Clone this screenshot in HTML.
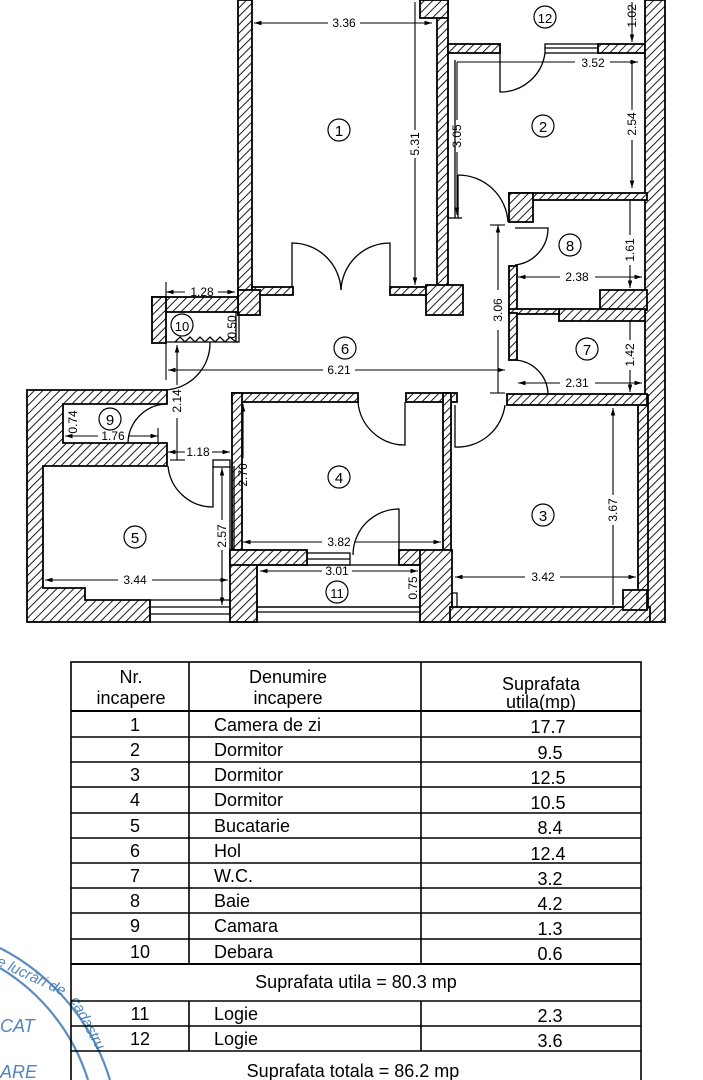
<!DOCTYPE html>
<html><head><meta charset="utf-8">
<style>
html,body{margin:0;padding:0;background:#fff;}
body{width:703px;height:1080px;overflow:hidden;position:relative;font-family:"Liberation Sans",sans-serif;}
svg{position:absolute;left:0;top:0;}
</style></head>
<body>
<svg width="703" height="1080" viewBox="0 0 703 1080" xmlns="http://www.w3.org/2000/svg">
<defs>
<pattern id="h" patternUnits="userSpaceOnUse" width="6" height="6" patternTransform="rotate(45)">
<rect width="6" height="6" fill="#fff"/>
<line x1="0" y1="0" x2="0" y2="6" stroke="#000" stroke-width="1.8"/>
</pattern>
<marker id="a" viewBox="0 0 10 10" refX="10" refY="5" markerWidth="7" markerHeight="7" orient="auto-start-reverse"><path d="M0,2 L10,5 L0,8 z" fill="#000"/></marker>
</defs>
<g fill="url(#h)" stroke="#000" stroke-width="1.8">
<rect x="238" y="0" width="14" height="315"/>
<rect x="252" y="287" width="41" height="8"/>
<rect x="238" y="290" width="22" height="25"/>
<rect x="437" y="0" width="11" height="290"/>
<rect x="420" y="0" width="28" height="18"/>
<rect x="390" y="287" width="40" height="8"/>
<rect x="426" y="285" width="37" height="30"/>
<rect x="448" y="44" width="52" height="9"/>
<rect x="598" y="44" width="47" height="9"/>
<rect x="645" y="0" width="20" height="622"/>
<rect x="638" y="395" width="10" height="212"/>
<rect x="509" y="193" width="138" height="7"/>
<rect x="509" y="193" width="24" height="29"/>
<rect x="509" y="266" width="8" height="44"/>
<rect x="600" y="290" width="47" height="20"/>
<rect x="559" y="309" width="86" height="12"/>
<rect x="509" y="309" width="50" height="5"/>
<rect x="509" y="313" width="8" height="47"/>
<rect x="507" y="394" width="140" height="11"/>
<rect x="152" y="297" width="86" height="15"/>
<rect x="152" y="297" width="14" height="46"/>
<path d="M27,390 H167 V404 H63 V443 H167 V466 H43 V588 H85 V600 H150 V622 H27 Z"/>
<rect x="232" y="393" width="126" height="9"/>
<rect x="406" y="393" width="51" height="9"/>
<rect x="232" y="393" width="10" height="157"/>
<rect x="443" y="393" width="8" height="160"/>
<rect x="230" y="550" width="27" height="72"/>
<rect x="230" y="550" width="77" height="15"/>
<rect x="399" y="550" width="23" height="15"/>
<rect x="420" y="550" width="32" height="72"/>
<rect x="450" y="607" width="200" height="15"/>
<rect x="623" y="590" width="24" height="20"/>
</g>
<g fill="none" stroke="#000" stroke-width="1.3">
<line x1="448" y1="53" x2="448" y2="218"/><line x1="455" y1="60" x2="455" y2="218"/>
<line x1="448" y1="218" x2="462" y2="218"/>
<rect x="545" y="44" width="53" height="9"/><line x1="545" y1="48" x2="598" y2="48"/>
<rect x="236" y="312" width="3" height="30"/>
<line x1="166" y1="342" x2="238" y2="342"/>
<polyline points="175,342 180,337 185,342 190,337 195,342 200,337 205,342 210,337 215,342 220,337 225,342 230,337 236,342"/>
<line x1="230" y1="466" x2="230" y2="550"/><line x1="234" y1="466" x2="234" y2="550"/>
<rect x="213" y="460" width="17" height="7"/>
<rect x="150" y="600" width="80" height="22"/><line x1="150" y1="607" x2="230" y2="607"/><line x1="150" y1="614" x2="230" y2="614"/>
<rect x="307" y="553" width="43" height="12"/><line x1="307" y1="559" x2="350" y2="559"/>
<rect x="257" y="607" width="163" height="15"/><line x1="257" y1="612" x2="420" y2="612"/>
<rect x="257" y="565" width="163" height="42"/>
<polyline points="451,593 457,593 457,607"/>
<line x1="27" y1="622" x2="665" y2="622"/>
<path d="M292,287 V243 A49,49 0 0 1 341,290"/>
<path d="M390,287 V243 A49,49 0 0 0 341,290"/>
<path d="M500,53 V92 A45,45 0 0 0 545,53"/>
<path d="M458,175 V218 M458,175 A50,50 0 0 1 508,222"/>
<path d="M515,228 H548 A37,37 0 0 1 515,265"/>
<path d="M515,360 A35,35 0 0 1 548,394"/>
<path d="M210,342 A47,47 0 0 1 165,390"/>
<path d="M165,404 A40,40 0 0 0 128,443"/>
<path d="M168,466 A45,45 0 0 0 213,507 V466"/>
<path d="M358,402 A47,47 0 0 0 405,445 V402"/>
<path d="M455,405 V447 A48,48 0 0 0 505,405"/>
<path d="M399,565 V509 A46,46 0 0 0 353,555"/>
</g>
<g stroke="#000" stroke-width="1.1" fill="none">
<line x1="254" y1="23" x2="328" y2="23" marker-start="url(#a)"/><line x1="360" y1="23" x2="432" y2="23" marker-end="url(#a)"/>
<line x1="415" y1="2" x2="415" y2="130"/><line x1="415" y1="158" x2="415" y2="285" marker-end="url(#a)"/>
<line x1="457" y1="62" x2="457" y2="120"/><line x1="457" y1="152" x2="457" y2="215" marker-end="url(#a)"/>
<line x1="457" y1="62" x2="575" y2="62"/><line x1="610" y1="62" x2="638" y2="62" marker-end="url(#a)"/>
<line x1="632" y1="62" x2="632" y2="110"/><line x1="632" y1="140" x2="632" y2="188" marker-end="url(#a)"/>
<line x1="632" y1="2" x2="632" y2="42" marker-end="url(#a)"/>
<line x1="630" y1="200" x2="630" y2="235"/><line x1="630" y1="265" x2="630" y2="288" marker-end="url(#a)"/>
<line x1="518" y1="277" x2="560" y2="277" marker-start="url(#a)"/><line x1="595" y1="277" x2="642" y2="277" marker-end="url(#a)"/>
<line x1="498" y1="225" x2="498" y2="290" marker-start="url(#a)"/><line x1="498" y1="330" x2="498" y2="393"/>
<line x1="490" y1="225" x2="505" y2="225"/><line x1="490" y1="393" x2="505" y2="393"/>
<line x1="630" y1="320" x2="630" y2="340"/><line x1="630" y1="370" x2="630" y2="392" marker-end="url(#a)"/>
<line x1="518" y1="383" x2="560" y2="383" marker-start="url(#a)"/><line x1="595" y1="383" x2="642" y2="383" marker-end="url(#a)"/>
<line x1="166" y1="292" x2="185" y2="292" marker-start="url(#a)"/><line x1="218" y1="292" x2="235" y2="292" marker-end="url(#a)"/>
<line x1="166" y1="282" x2="166" y2="380"/>
<line x1="168" y1="370" x2="323" y2="370" marker-start="url(#a)"/><line x1="355" y1="370" x2="505" y2="370" marker-end="url(#a)"/>
<line x1="177" y1="345" x2="177" y2="385" marker-start="url(#a)"/><line x1="177" y1="418" x2="177" y2="460"/>
<line x1="170" y1="460" x2="185" y2="460"/>
<line x1="168" y1="452" x2="185" y2="452" marker-start="url(#a)"/><line x1="212" y1="452" x2="230" y2="452" marker-end="url(#a)"/>
<line x1="65" y1="436" x2="98" y2="436" marker-start="url(#a)"/><line x1="128" y1="436" x2="158" y2="436" marker-end="url(#a)"/>
<line x1="158" y1="428" x2="158" y2="444"/>
<line x1="243" y1="404" x2="243" y2="458" marker-start="url(#a)"/>
<line x1="222" y1="468" x2="222" y2="520" marker-start="url(#a)"/><line x1="222" y1="550" x2="222" y2="605" marker-end="url(#a)"/>
<line x1="45" y1="580" x2="118" y2="580" marker-start="url(#a)"/><line x1="152" y1="580" x2="228" y2="580" marker-end="url(#a)"/>
<line x1="243" y1="542" x2="322" y2="542" marker-start="url(#a)"/><line x1="355" y1="542" x2="441" y2="542" marker-end="url(#a)"/>
<line x1="260" y1="571" x2="322" y2="571" marker-start="url(#a)"/><line x1="352" y1="571" x2="418" y2="571" marker-end="url(#a)"/>
<line x1="455" y1="577" x2="525" y2="577" marker-start="url(#a)"/><line x1="560" y1="577" x2="636" y2="577" marker-end="url(#a)"/>
<line x1="613" y1="408" x2="613" y2="495" marker-start="url(#a)"/><line x1="613" y1="525" x2="613" y2="605"/>
</g>
<g font-family="Liberation Sans, sans-serif" font-size="12" fill="#000" text-anchor="middle">
<text x="344" y="27">3.36</text>
<text x="593" y="67">3.52</text>
<text x="577" y="281">2.38</text>
<text x="577" y="387">2.31</text>
<text x="202" y="296">1.28</text>
<text x="339" y="374">6.21</text>
<text x="113" y="440">1.76</text>
<text x="198" y="456">1.18</text>
<text x="135" y="584">3.44</text>
<text x="339" y="546">3.82</text>
<text x="337" y="575">3.01</text>
<text x="543" y="581">3.42</text>
<text transform="translate(419,144) rotate(-90)">5.31</text>
<text transform="translate(461,136) rotate(-90)">3.05</text>
<text transform="translate(636,124) rotate(-90)">2.54</text>
<text transform="translate(636,16) rotate(-90)">1.02</text>
<text transform="translate(634,250) rotate(-90)">1.61</text>
<text transform="translate(502,310) rotate(-90)">3.06</text>
<text transform="translate(634,355) rotate(-90)">1.42</text>
<text transform="translate(236,327) rotate(-90)">0.50</text>
<text transform="translate(181,401) rotate(-90)">2.14</text>
<text transform="translate(77,422) rotate(-90)">0.74</text>
<text transform="translate(247,475) rotate(-90)">2.76</text>
<text transform="translate(226,536) rotate(-90)">2.57</text>
<text transform="translate(417,588) rotate(-90)">0.75</text>
<text transform="translate(617,510) rotate(-90)">3.67</text>
</g>
<g font-family="Liberation Sans, sans-serif" font-size="15" fill="#000" text-anchor="middle" stroke-width="1.2">
<g fill="none" stroke="#000">
<circle cx="339" cy="130" r="11"/><circle cx="543" cy="126" r="11"/><circle cx="545" cy="17" r="11"/>
<circle cx="570" cy="245" r="11"/><circle cx="587" cy="349" r="11"/><circle cx="345" cy="348" r="11"/>
<circle cx="182" cy="325" r="11"/><circle cx="110" cy="419" r="11"/><circle cx="339" cy="477" r="11"/>
<circle cx="543" cy="515" r="11"/><circle cx="135" cy="537" r="11"/><circle cx="337" cy="592" r="11"/>
</g>
<text x="339" y="136">1</text><text x="543" y="132">2</text><text x="545" y="23" font-size="13">12</text>
<text x="570" y="251">8</text><text x="587" y="355">7</text><text x="345" y="354">6</text>
<text x="182" y="331" font-size="13">10</text><text x="110" y="425">9</text><text x="339" y="483">4</text>
<text x="543" y="521">3</text><text x="135" y="543">5</text><text x="337" y="598" font-size="13">11</text>
</g>
<g fill="none" stroke="#3f78b8" stroke-width="2.2" opacity="0.85">
<path d="M0,948 A220,220 0 0 1 110,1080"/>
<path d="M0,968 A200,200 0 0 1 88,1080"/>
</g>
<g fill="#3f78b8" font-family="Liberation Sans, sans-serif" font-size="15" font-style="italic" opacity="0.9">
<text x="-2" y="966" transform="rotate(25 0 960)">e lucrări de</text>
<text x="70" y="1000" transform="rotate(62 70 1000)">cadastru</text>
<text x="0" y="1032" font-size="18">CAT</text>
<text x="0" y="1078" font-size="18">ARE</text>
</g>
<g stroke="#000" stroke-width="1.6" fill="none">
<rect x="71" y="662" width="570" height="430"/>
<line x1="71" y1="711" x2="641" y2="711" stroke-width="2"/>
<line x1="71" y1="737" x2="641" y2="737"/><line x1="71" y1="762" x2="641" y2="762"/>
<line x1="71" y1="787" x2="641" y2="787"/><line x1="71" y1="813" x2="641" y2="813"/>
<line x1="71" y1="838" x2="641" y2="838"/><line x1="71" y1="863" x2="641" y2="863"/>
<line x1="71" y1="888" x2="641" y2="888"/><line x1="71" y1="913" x2="641" y2="913"/>
<line x1="71" y1="939" x2="641" y2="939"/><line x1="71" y1="964" x2="641" y2="964" stroke-width="2"/>
<line x1="71" y1="1001" x2="641" y2="1001"/><line x1="71" y1="1026" x2="641" y2="1026"/>
<line x1="71" y1="1051" x2="641" y2="1051"/>
<line x1="189" y1="662" x2="189" y2="964"/><line x1="421" y1="662" x2="421" y2="964"/>
<line x1="189" y1="1001" x2="189" y2="1051"/><line x1="421" y1="1001" x2="421" y2="1051"/>
</g>
<g font-family="Liberation Sans, sans-serif" font-size="18" fill="#000">
<g text-anchor="middle">
<text x="131" y="683">Nr.</text><text x="131" y="704">incapere</text>
<text x="288" y="683">Denumire</text><text x="288" y="704">incapere</text>
<text x="541" y="690">Suprafata</text><text x="541" y="708">utila(mp)</text>
<text x="135" y="731">1</text><text x="135" y="756">2</text><text x="135" y="781">3</text><text x="135" y="806">4</text>
<text x="135" y="832">5</text><text x="135" y="857">6</text><text x="135" y="882">7</text><text x="135" y="907">8</text>
<text x="135" y="932">9</text><text x="140" y="958">10</text>
<text x="356" y="988">Suprafata utila = 80.3 mp</text>
<text x="140" y="1020">11</text><text x="140" y="1045">12</text>
<text x="353" y="1077">Suprafata totala = 86.2 mp</text>
</g>
<g>
<text x="214" y="731">Camera de zi</text><text x="214" y="756">Dormitor</text><text x="214" y="781">Dormitor</text>
<text x="214" y="806">Dormitor</text><text x="214" y="832">Bucatarie</text><text x="214" y="857">Hol</text>
<text x="214" y="882">W.C.</text><text x="214" y="907">Baie</text><text x="214" y="932">Camara</text>
<text x="214" y="958">Debara</text><text x="214" y="1020">Logie</text><text x="214" y="1045">Logie</text>
</g>
<g text-anchor="middle">
<text x="548" y="733">17.7</text><text x="550" y="759">9.5</text><text x="548" y="784">12.5</text>
<text x="548" y="809">10.5</text><text x="550" y="834">8.4</text><text x="548" y="860">12.4</text>
<text x="550" y="885">3.2</text><text x="550" y="910">4.2</text><text x="550" y="935">1.3</text>
<text x="550" y="960">0.6</text><text x="550" y="1022">2.3</text><text x="550" y="1047">3.6</text>
</g>
</g>
</svg>
</body></html>
